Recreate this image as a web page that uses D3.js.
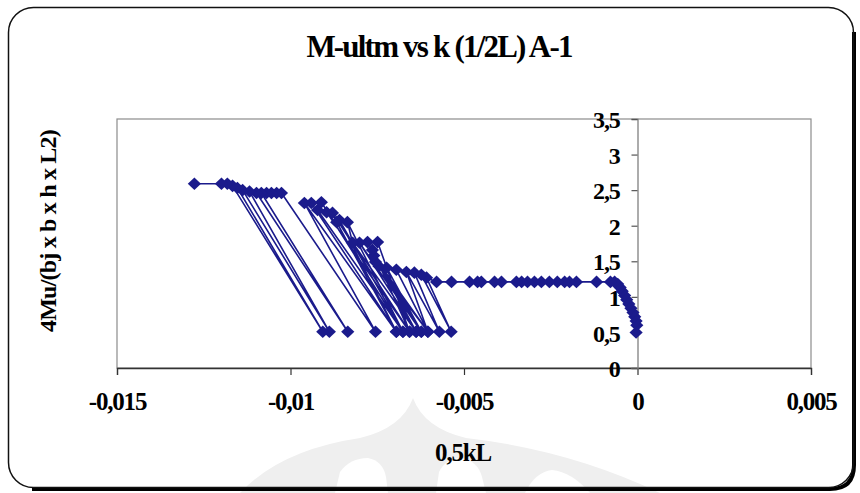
<!DOCTYPE html>
<html>
<head>
<meta charset="utf-8">
<script src="https://cdn.jsdelivr.net/npm/d3@7"></script>
<style>
  html, body { margin: 0; padding: 0; background: #fff; }
  svg { display: block; }
  text { font-family: "Liberation Serif", "Times New Roman", serif; font-weight: bold; fill: #000; }
</style>
</head>
<body>
<svg id="chart" width="860" height="493"></svg>
<script>
// ---- data ----
const title = "M-ultm vs k (1/2L) A-1";
const xLabel = "0,5kL";
const yLabel = "4Mu/(bj x b x h x L2)";
const xTicks = [-0.015, -0.01, -0.005, 0, 0.005];
const yTicks = [0, 0.5, 1, 1.5, 2, 2.5, 3, 3.5];

// series, in drawing order (0,5kL values)
const kL = [
  -0.00004, -0.00002, -0.00004, -0.00008, -0.00013, -0.00019, -0.00025, -0.00031, -0.00037, -0.00044,
  -0.00050, -0.00057, -0.00066, -0.00078,
  -0.00118, -0.00176, -0.00196, -0.00210, -0.00231, -0.00254, -0.00277, -0.00297, -0.00317, -0.00334,
  -0.00349, -0.00392, -0.00412, -0.00450, -0.00461, -0.00484, -0.00536, -0.00579,
  -0.00608, -0.00537, -0.00623, -0.00643, -0.00571, -0.00666, -0.00604, -0.00695, -0.00723, -0.00623,
  -0.00745, -0.00755, -0.00604, -0.00760, -0.00638, -0.00764, -0.00657, -0.00749, -0.00778, -0.00623,
  -0.00801, -0.00638, -0.00821, -0.00836, -0.00676, -0.00859, -0.00695, -0.00867, -0.00879, -0.00657,
  -0.00896, -0.00922, -0.00676, -0.00911, -0.00940, -0.00695, -0.00960, -0.00755,
  -0.01026, -0.01040, -0.01055, -0.01069, -0.01084, -0.00835, -0.01098, -0.01118, -0.00888, -0.01138,
  -0.01153, -0.00907, -0.01167, -0.01182, -0.01199, -0.01277
];
// series, matching 4Mu/(bj x b x h x L2) values
const mu = [
  0.50, 0.60, 0.66, 0.72, 0.78, 0.84, 0.90, 0.96, 1.02, 1.08,
  1.13, 1.18, 1.21, 1.21,
  1.21, 1.21, 1.21, 1.21, 1.21, 1.21, 1.21, 1.21, 1.21, 1.21,
  1.21, 1.21, 1.21, 1.21, 1.21, 1.21, 1.21, 1.21,
  1.27, 0.51, 1.31, 1.34, 0.51, 1.35, 0.51, 1.38, 1.41, 0.51,
  1.43, 1.49, 0.51, 1.58, 0.51, 1.66, 0.51, 1.77, 1.77, 0.51,
  1.76, 0.51, 1.76, 2.05, 0.51, 2.08, 0.51, 2.05, 2.18, 0.51,
  2.19, 2.22, 0.51, 2.33, 2.32, 0.51, 2.32, 0.51,
  2.46, 2.46, 2.46, 2.46, 2.46, 0.51, 2.46, 2.48, 0.51, 2.50,
  2.53, 0.51, 2.56, 2.59, 2.59, 2.59
];

// ---- drawing ----
const svg = d3.select("#chart");
const seriesColor = "#1b1b8c";
const fmt = d => String(d).replace(".", ",");

// watermark (faint logo at the bottom)
svg.append("path").attr("fill", "#efefef").attr("d",
  "M240,493 Q280,450 360,438 Q402,428 413,398 Q424,428 466,438 Q570,450 660,493 Z");
const wmw = svg.append("g").attr("fill", "#fff");
wmw.append("path").attr("d", "M335,493 L340,472 Q350,458 368,458 Q383,461 386,477 L388,493 Z");
wmw.append("path").attr("d", "M436,493 L439,472 Q446,458 461,458 Q478,461 482,477 L486,493 Z");
wmw.append("path").attr("d", "M525,493 Q535,472 552,470 Q572,472 590,493 Z");

// outer frame with shadow
svg.append("path")
  .attr("d", "M854,32 L854,465 Q854,489 830,489 L32,489")
  .attr("fill", "none").attr("stroke", "#000").attr("stroke-width", 4);
svg.append("rect")
  .attr("x", 8.5).attr("y", 7.5).attr("width", 845).attr("height", 480)
  .attr("rx", 25).attr("ry", 25)
  .attr("fill", "none").attr("stroke", "#111").attr("stroke-width", 1.5);

// scales
const x = d3.scaleLinear().domain([-0.015, 0.005]).range([117, 811]);
const y = d3.scaleLinear().domain([0, 3.5]).range([368, 119]);

// plot area border
svg.append("rect")
  .attr("x", x(-0.015)).attr("y", y(3.5))
  .attr("width", x(0.005) - x(-0.015)).attr("height", y(0) - y(3.5))
  .attr("fill", "none").attr("stroke", "#8c8c8c").attr("stroke-width", 1.2);

// x axis
const xAxis = d3.axisBottom(x).tickValues(xTicks).tickFormat(fmt).tickSize(7).tickPadding(17);
const gx = svg.append("g").attr("transform", `translate(0,${y(0)})`).call(xAxis);
gx.select(".domain").attr("stroke", "#333").attr("stroke-width", 1.3);
gx.selectAll(".tick line").attr("stroke", "#333").attr("stroke-width", 1.2);
gx.selectAll(".tick text")
  .style("font-family", '"Liberation Serif", serif').style("font-weight", "bold")
  .style("font-size", "25px").attr("fill", "#000").style("letter-spacing", "-1.2px");

// y axis
const yAxis = d3.axisLeft(y).tickValues(yTicks).tickFormat(fmt).tickSize(6).tickPadding(12);
const gy = svg.append("g").attr("transform", `translate(${x(0)},0)`).call(yAxis);
gy.select(".domain").attr("stroke", "#808080").attr("stroke-width", 1.3);
gy.selectAll(".tick line").attr("stroke", "#555").attr("stroke-width", 1.2);
gy.selectAll(".tick text")
  .style("font-family", '"Liberation Serif", serif').style("font-weight", "bold")
  .style("font-size", "24px").attr("fill", "#1a1a1a").style("letter-spacing", "-1.2px")
  .attr("dy", "0.36em");

// series line + markers
const pts = kL.map((v, i) => [v, mu[i]]);
const line = d3.line().x(d => x(d[0])).y(d => y(d[1]));
svg.append("path").datum(pts)
  .attr("d", line)
  .attr("fill", "none").attr("stroke", seriesColor).attr("stroke-width", 1.6)
  .attr("stroke-linejoin", "round");
svg.append("g").selectAll("path").data(pts).join("path")
  .attr("transform", d => `translate(${x(d[0])},${y(d[1])})`)
  .attr("d", "M0,-6.3L6.6,0L0,6.3L-6.6,0Z")
  .attr("fill", seriesColor);

// title
svg.append("text")
  .attr("x", 439).attr("y", 57).attr("text-anchor", "middle")
  .style("font-size", "31px").style("letter-spacing", "-1.8px")
  .text(title);

// x label
svg.append("text")
  .attr("x", 463).attr("y", 461).attr("text-anchor", "middle")
  .style("font-size", "25px").style("letter-spacing", "-1.2px")
  .text(xLabel);

// y label
svg.append("text")
  .attr("transform", "translate(56,231) rotate(-90)")
  .attr("text-anchor", "middle")
  .style("font-size", "24px").style("letter-spacing", "-0.8px")
  .text(yLabel);
</script>
</body>
</html>
